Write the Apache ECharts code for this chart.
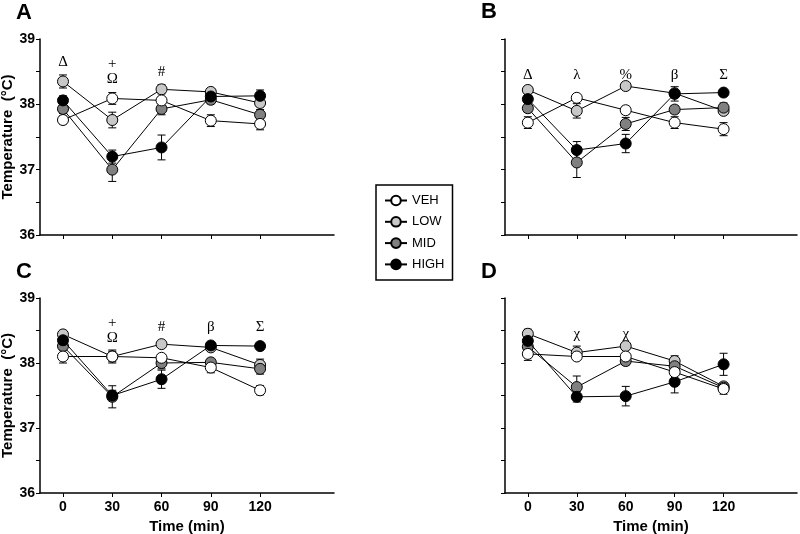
<!DOCTYPE html>
<html>
<head>
<meta charset="utf-8">
<script src="https://cdn.jsdelivr.net/npm/echarts@6/dist/echarts.min.js"></script>
<style>html,body{margin:0;padding:0;background:#fff}#c{width:800px;height:534px}</style>
</head>
<body>
<div id="c"></div>
<script>
// ---- data ----
const times = [0, 30, 60, 90, 120];
const groups = ['VEH', 'LOW', 'MID', 'HIGH'];
const yTickLabels = [36, 37, 38, 39];
const xTickLabels = [0, 30, 60, 90, 120];

// means per panel: rows = VEH, LOW, MID, HIGH
const A_mean = [
  [37.76, 38.09, 38.06, 37.75, 37.70],
  [38.35, 37.76, 38.23, 38.19, 38.02],
  [37.93, 37.00, 37.93, 38.07, 37.84],
  [38.06, 37.20, 37.34, 38.12, 38.13]
];
const A_sem = [
  [0.06, 0.09, 0.05, 0.09, 0.09],
  [0.10, 0.12, 0.07, 0.04, 0.05],
  [0.07, 0.18, 0.09, 0.06, 0.08],
  [0.07, 0.10, 0.19, 0.05, 0.09]
];
const B_mean = [
  [37.72, 38.10, 37.91, 37.72, 37.62],
  [38.22, 37.90, 38.28, 38.17, 37.90],
  [37.94, 37.11, 37.70, 37.92, 37.95],
  [38.08, 37.30, 37.40, 38.16, 38.18]
];
const B_sem = [
  [0.09, 0.04, 0.06, 0.09, 0.10],
  [0.05, 0.11, 0.03, 0.05, 0.05],
  [0.06, 0.23, 0.10, 0.06, 0.07],
  [0.05, 0.13, 0.14, 0.11, 0.03]
];
const C_mean = [
  [38.10, 38.10, 38.08, 37.93, 37.58],
  [38.44, 38.10, 38.29, 38.24, 37.97],
  [38.26, 37.48, 38.00, 38.01, 37.91],
  [38.35, 37.50, 37.75, 38.27, 38.26]
];
const C_sem = [
  [0.10, 0.10, 0.05, 0.08, 0.07],
  [0.05, 0.08, 0.03, 0.04, 0.09],
  [0.05, 0.17, 0.09, 0.05, 0.08],
  [0.05, 0.08, 0.14, 0.04, 0.03]
];
const D_mean = [
  [38.14, 38.10, 38.10, 37.86, 37.60],
  [38.45, 38.16, 38.26, 38.03, 37.64],
  [38.25, 37.63, 38.03, 37.95, 37.62],
  [38.34, 37.48, 37.49, 37.71, 37.98]
];
const D_sem = [
  [0.10, 0.05, 0.05, 0.05, 0.08],
  [0.07, 0.10, 0.05, 0.08, 0.06],
  [0.06, 0.17, 0.06, 0.06, 0.05],
  [0.05, 0.08, 0.15, 0.17, 0.17]
];
// significance annotations: [time, temperature, symbol]
const A_notes = [[0, 38.65, 'Δ'], [30, 38.62, '+'], [30, 38.38, 'Ω'], [60, 38.50, '#']];
const B_notes = [[0, 38.45, 'Δ'], [30, 38.45, 'λ'], [60, 38.45, '%'], [90, 38.45, 'β'], [120, 38.45, 'Σ']];
const C_notes = [[30, 38.62, '+'], [30, 38.39, 'Ω'], [60, 38.56, '#'], [90, 38.56, 'β'], [120, 38.56, 'Σ']];
const D_notes = [[30, 38.44, 'χ'], [60, 38.44, 'χ']];

// ---- styling ----
const fills = { VEH: '#ffffff', LOW: '#c8c8c8', MID: '#808080', HIGH: '#000000' };
const drawOrder = ['LOW', 'MID', 'HIGH', 'VEH'];
const SANS = 'Liberation Sans';
const SERIF = 'Liberation Serif';

const panels = [
  { letter: 'A', mean: A_mean, sem: A_sem, notes: A_notes, grid: { left: 40, top: 39, width: 294, height: 196 }, yLabels: true, xLabels: false, lx: 16, ly: 2 },
  { letter: 'B', mean: B_mean, sem: B_sem, notes: B_notes, grid: { left: 505, top: 39, width: 292, height: 196 }, yLabels: false, xLabels: false, lx: 481, ly: 1 },
  { letter: 'C', mean: C_mean, sem: C_sem, notes: C_notes, grid: { left: 40, top: 298, width: 294, height: 195 }, yLabels: true, xLabels: true, lx: 16, ly: 261 },
  { letter: 'D', mean: D_mean, sem: D_sem, notes: D_notes, grid: { left: 505, top: 298, width: 292, height: 195 }, yLabels: false, xLabels: true, lx: 481, ly: 261 }
];

const grid = [], xAxis = [], yAxis = [], series = [], title = [];
panels.forEach((p, pi) => {
  grid.push(Object.assign({ outerBoundsMode: 'none', containLabel: false }, p.grid));
  title.push({ text: p.letter, left: p.lx, top: p.ly, padding: 0,
    textStyle: { fontFamily: SANS, fontWeight: 'bold', fontSize: 22, color: '#000' } });
  xAxis.push({
    type: 'value', gridIndex: pi, min: -14, max: 165,
    splitLine: { show: false },
    axisLine: { show: true, onZero: false, lineStyle: { color: '#000', width: 1.5 } },
    axisTick: { show: true, customValues: xTickLabels, length: 4, lineStyle: { color: '#000', width: 1 } },
    axisLabel: { show: p.xLabels, customValues: xTickLabels, fontFamily: SANS, fontWeight: 'bold', fontSize: 14, color: '#000', margin: 7 },
    name: p.xLabels ? 'Time (min)' : '', nameLocation: 'middle', nameGap: 26,
    nameTextStyle: { fontFamily: SANS, fontWeight: 'bold', fontSize: 15, color: '#000' }
  });
  yAxis.push({
    type: 'value', gridIndex: pi, min: 36, max: 39, interval: 0.5,
    splitLine: { show: false },
    axisLine: { show: true, onZero: false, lineStyle: { color: '#000', width: 1.5 } },
    axisTick: { show: true, length: 4, lineStyle: { color: '#000', width: 1 } },
    axisLabel: { show: p.yLabels, customValues: yTickLabels, fontFamily: SANS, fontWeight: 'bold', fontSize: 14, color: '#000', margin: 5 },
    name: p.yLabels ? 'Temperature  (°C)' : '', nameLocation: 'middle', nameGap: 18, nameRotate: 90,
    nameTextStyle: { fontFamily: SANS, fontWeight: 'bold', fontSize: 15, color: '#000' }
  });
  // error bars
  drawOrder.forEach(g => {
    const gi = groups.indexOf(g);
    series.push({
      type: 'custom', xAxisIndex: pi, yAxisIndex: pi, z: 1, silent: true,
      data: times.map((t, i) => [t, p.mean[gi][i] - p.sem[gi][i], p.mean[gi][i] + p.sem[gi][i]]),
      renderItem: (params, api) => {
        const x = api.value(0);
        const lo = api.coord([x, api.value(1)]);
        const hi = api.coord([x, api.value(2)]);
        const w = 4;
        const st = { stroke: '#000', lineWidth: 1 };
        return { type: 'group', children: [
          { type: 'line', shape: { x1: lo[0], y1: lo[1], x2: hi[0], y2: hi[1] }, style: st },
          { type: 'line', shape: { x1: lo[0] - w, y1: lo[1], x2: lo[0] + w, y2: lo[1] }, style: st },
          { type: 'line', shape: { x1: hi[0] - w, y1: hi[1], x2: hi[0] + w, y2: hi[1] }, style: st }
        ] };
      }
    });
  });
  // lines + markers
  drawOrder.forEach((g, k) => {
    const gi = groups.indexOf(g);
    series.push({
      type: 'line', name: g, xAxisIndex: pi, yAxisIndex: pi, z: 3 + k,
      data: times.map((t, i) => [t, p.mean[gi][i]]),
      symbol: 'circle', symbolSize: 11, showAllSymbol: true,
      lineStyle: { color: '#000', width: 1 },
      itemStyle: { color: fills[g], borderColor: '#000', borderWidth: 1 },
      emphasis: { disabled: true }, animation: false
    });
  });
  // annotations (text anchored at data coordinates)
  series.push({
    type: 'custom', xAxisIndex: pi, yAxisIndex: pi, z: 10, silent: true,
    data: p.notes,
    renderItem: (params, api) => {
      const pt = api.coord([api.value(0), api.value(1)]);
      return { type: 'text', x: pt[0], y: pt[1],
        style: { text: p.notes[params.dataIndex][2], fill: '#000',
          font: '15px "' + SERIF + '"', align: 'center', verticalAlign: 'middle' } };
    }
  });
});

const chart = echarts.init(document.getElementById('c'), null, { renderer: 'canvas' });
chart.setOption({
  animation: false,
  backgroundColor: '#fff',
  title: title,
  legend: {
    data: groups, orient: 'vertical', left: 376, top: 185,
    selectedMode: false, itemWidth: 22, itemHeight: 12, itemGap: 8.3,
    padding: [9, 8, 9, 8], borderColor: '#000', borderWidth: 1.5,
    textStyle: { fontFamily: SANS, fontSize: 13, color: '#000' }
  },
  grid: grid, xAxis: xAxis, yAxis: yAxis, series: series
});
</script>
</body>
</html>
